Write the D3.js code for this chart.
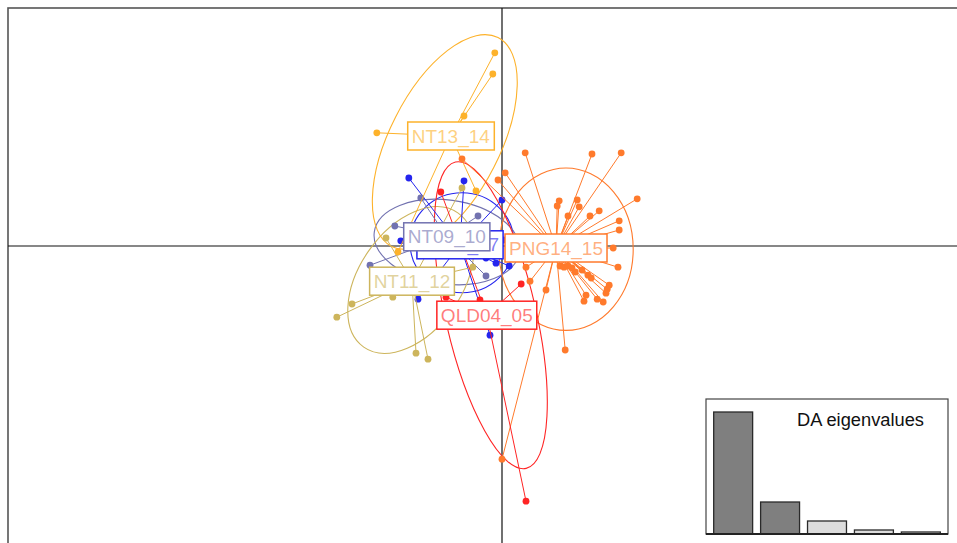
<!DOCTYPE html>
<html>
<head>
<meta charset="utf-8">
<script src="https://cdn.jsdelivr.net/npm/d3@7"></script>
<style>
  body { margin: 0; background: #fff; }
  svg { display: block; font-family: "Liberation Sans", Arial, sans-serif; }
</style>
</head>
<body>
<script>
// groups in drawing order
const groups = ["NT06_07", "NT09_10", "NT11_12", "NT13_14", "PNG14_15", "QLD04_05"];
const colours = ["#2525EE", "#7272B0", "#CDB55C", "#FDB22B", "#FF7A2C", "#FF2424"];

// group centroids on LD1 / LD2
const centroids = [
  [-1.05, 0.03], [-1.38, 0.23], [-2.25, -0.88], [-1.28, 2.75], [1.35, -0.05], [-0.38, -1.73]
];

// individual scores, per group
const scores = [
  [[-2.33, 1.70], [-0.95, 1.63], [0.00, 1.15], [-2.53, 0.13], [-0.15, -0.43], [0.18, -0.50],
   [-2.10, -1.33], [-0.30, -2.23], [0.03, 0.15], [-0.40, -0.30]],
  [[-2.03, 1.20], [-0.60, 0.75], [-2.68, 0.50], [-3.30, -0.48], [-0.40, -0.75]],
  [[-4.13, -1.78], [-3.75, -1.45], [-2.73, -1.28], [-2.15, -2.68], [-1.85, -2.83],
   [-2.90, 0.20], [-1.00, 1.45], [-0.73, -0.53]],
  [[-0.18, 4.83], [-0.23, 4.30], [-0.95, 3.25], [-3.13, 2.83], [-0.65, 1.38], [-2.60, -0.15]],
  [[0.58, 2.33], [2.25, 2.30], [2.98, 2.33], [0.08, 1.83], [-0.10, 1.65], [3.38, 1.18],
   [1.43, 1.13], [1.38, 1.00], [1.88, 1.15], [1.93, 0.98], [1.65, 0.75], [2.20, 0.75],
   [2.43, 0.88], [2.93, 0.63], [2.93, 0.40], [2.78, -0.05], [2.90, -0.53], [0.60, -0.53],
   [0.70, -0.88], [1.10, -1.10], [1.58, -2.60], [1.45, -0.50], [1.55, -0.53], [1.65, -0.50],
   [2.15, -0.73], [2.23, -0.80], [2.68, -0.98], [2.63, -1.08], [2.60, -1.18], [2.10, -1.23],
   [2.05, -1.38], [2.38, -1.33], [2.53, -1.40], [2.00, -0.60], [1.83, -0.65], [1.75, -0.55],
   [-1.00, 2.18], [0.00, -5.33]],
  [[-1.53, 1.35], [0.48, -0.95], [0.60, -6.38], [-1.40, -1.28], [-0.55, -1.35], [-0.10, -2.00]]
];

// inertia ellipses: centre x, centre y, half-width, half-height, rotation (deg)
const ellipses = [
  [-1.00, 0.08, 1.30, 1.25, 0],
  [-1.38, 0.10, 1.83, 1.05, 8],
  [-2.28, -0.85, 2.05, 1.28, -55],
  [-1.43, 2.60, 1.38, 2.93, 27],
  [1.60, -0.08, 1.68, 2.03, 0],
  [-0.28, -1.73, 1.13, 3.93, -13]
];

const eigenvalues = [122, 32, 13, 4, 2];
const nRetained = 2;

const W = 957, H = 543;

const svg = d3.select("body").append("svg")
  .attr("width", W)
  .attr("height", H);

const x = d3.scaleLinear().domain([-12.35, 11.575]).range([8, 965]);
const y = d3.scaleLinear().domain([5.95, -7.5]).range([8, 546]);

// frame
svg.append("rect")
  .attr("x", 8).attr("y", 8)
  .attr("width", 980).attr("height", 560)
  .attr("fill", "none")
  .attr("stroke", "#555")
  .attr("stroke-width", 1.6);

// axes through origin
svg.append("line")
  .attr("x1", 8).attr("x2", W)
  .attr("y1", y(0)).attr("y2", y(0))
  .attr("stroke", "#111").attr("stroke-width", 1.2);
svg.append("line")
  .attr("x1", x(0)).attr("x2", x(0))
  .attr("y1", 8).attr("y2", H)
  .attr("stroke", "#111").attr("stroke-width", 1.2);

const plot = svg.append("g");

// ellipses
plot.selectAll("ellipse.grp")
  .data(ellipses)
  .join("ellipse")
  .attr("class", "grp")
  .attr("cx", d => x(d[0]))
  .attr("cy", d => y(d[1]))
  .attr("rx", d => x(d[2]) - x(0))
  .attr("ry", d => y(0) - y(d[3]))
  .attr("transform", d => `rotate(${d[4]},${x(d[0])},${y(d[1])})`)
  .attr("fill", "none")
  .attr("stroke", (d, i) => colours[i])
  .attr("stroke-width", 1.1);

// stars and points
groups.forEach((g, i) => {
  const c = centroids[i];
  const grp = plot.append("g");
  grp.selectAll("line")
    .data(scores[i])
    .join("line")
    .attr("x1", x(c[0])).attr("y1", y(c[1]))
    .attr("x2", d => x(d[0])).attr("y2", d => y(d[1]))
    .attr("stroke", colours[i])
    .attr("stroke-width", 1);
  grp.selectAll("circle")
    .data(scores[i])
    .join("circle")
    .attr("cx", d => x(d[0]))
    .attr("cy", d => y(d[1]))
    .attr("r", 3.4)
    .attr("fill", colours[i]);
});

// labels
groups.forEach((g, i) => {
  const c = centroids[i];
  const lab = svg.append("g").attr("transform", `translate(${x(c[0])},${y(c[1])})`);
  const t = lab.append("text")
    .attr("text-anchor", "middle")
    .attr("dy", "0.35em")
    .attr("font-size", 19)
    .attr("fill", colours[i])
    .attr("fill-opacity", 0.6)
    .text(g);
  const bb = t.node().getBBox();
  lab.insert("rect", "text")
    .attr("x", bb.x - 4)
    .attr("y", -14)
    .attr("width", bb.width + 8)
    .attr("height", 28)
    .attr("fill", "#fff")
    .attr("stroke", colours[i])
    .attr("stroke-width", 1.5);
});

// eigenvalue inset
const inset = { x0: 706, x1: 948, y0: 399, y1: 534 };
const ins = svg.append("g");
ins.append("rect")
  .attr("x", inset.x0).attr("y", inset.y0)
  .attr("width", inset.x1 - inset.x0).attr("height", inset.y1 - inset.y0)
  .attr("fill", "#fff")
  .attr("stroke", "#444")
  .attr("stroke-width", 1.2);

const xb = d3.scaleBand()
  .domain(d3.range(eigenvalues.length))
  .range([inset.x0 + 3, inset.x1 - 3])
  .paddingInner(0.17)
  .paddingOuter(0.1);
const yb = d3.scaleLinear()
  .domain([0, d3.max(eigenvalues)])
  .range([inset.y1, 412]);

ins.selectAll("rect.bar")
  .data(eigenvalues)
  .join("rect")
  .attr("class", "bar")
  .attr("x", (d, i) => xb(i))
  .attr("width", xb.bandwidth())
  .attr("y", d => yb(d))
  .attr("height", d => inset.y1 - yb(d))
  .attr("fill", (d, i) => i < nRetained ? "#7F7F7F" : "#DCDCDC")
  .attr("stroke", "#2a2a2a")
  .attr("stroke-width", 1.3);

ins.append("line")
  .attr("x1", inset.x0).attr("x2", inset.x1)
  .attr("y1", inset.y1).attr("y2", inset.y1)
  .attr("stroke", "#222").attr("stroke-width", 2);

ins.append("text")
  .attr("x", 924)
  .attr("y", 426)
  .attr("text-anchor", "end")
  .attr("font-size", 18.3)
  .attr("fill", "#111")
  .text("DA eigenvalues");
</script>
</body>
</html>
